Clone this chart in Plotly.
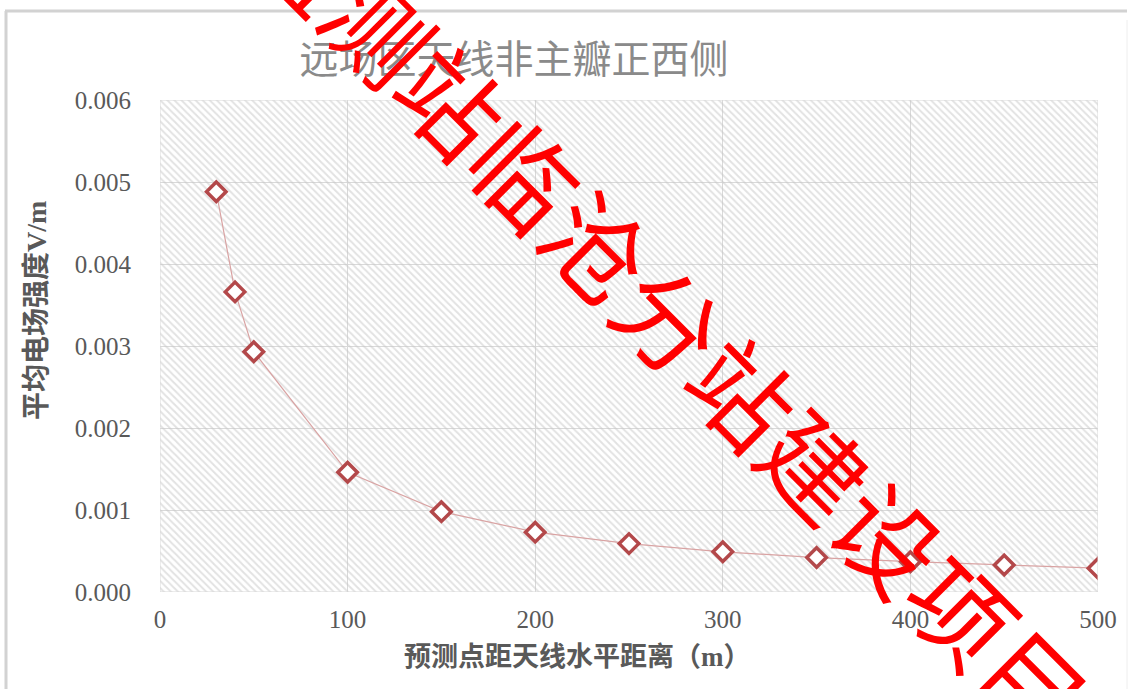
import plotly.graph_objects as go

# ---- data ----
distance_m = [30, 40, 50, 100, 150, 200, 250, 300, 350, 400, 450, 500]
field_vm = [0.00488, 0.00366, 0.00293, 0.00146, 0.00098, 0.00073,
            0.00059, 0.00049, 0.00042, 0.00037, 0.00033, 0.00029]
x_ticks = [0, 100, 200, 300, 400, 500]
y_ticks = [0.000, 0.001, 0.002, 0.003, 0.004, 0.005, 0.006]
x_range = [0, 500]
y_range = [0, 0.006]

title_text = "远场区天线非主瓣正西侧"
x_title = "预测点距天线水平距离（m）"
y_title = "平均电场强度V/m"
watermark = "监测站临沧分站建设项目"

W, H = 1134, 689
L, R, T, B = 160, 36, 100, 97
pw, ph = W - L - R, H - T - B

def px_x(px):
    return (px - L) / pw

def px_y(py):
    return (H - B - py) / ph

fig = go.Figure()

# hatched plot-area background
fig.add_trace(go.Bar(
    x=[(x_range[0] + x_range[1]) / 2], y=[y_range[1]],
    width=[x_range[1] - x_range[0]],
    marker=dict(color="rgba(0,0,0,0)", line=dict(width=0),
                pattern=dict(shape="\\", fgcolor="#c6c6c6", bgcolor="rgba(0,0,0,0)",
                             size=5, solidity=0.4)),
    hoverinfo="skip", showlegend=False))

fig.add_trace(go.Scatter(
    x=distance_m, y=field_vm, mode="lines+markers",
    line=dict(color="#d9a3a3", width=1.2),
    marker=dict(symbol="diamond", size=15, color="#ffffff",
                line=dict(color="#b3484a", width=3.5)),
    showlegend=False))

serif = "Liberation Serif, Noto Sans CJK SC, serif"

fig.update_xaxes(range=x_range, tickvals=x_ticks, showgrid=True, gridcolor="#d9d9d9",
                 gridwidth=1, zeroline=False, showline=False, ticks="",
                 tickfont=dict(family=serif, size=25, color="#595959"),
                 ticklabelstandoff=10)
fig.update_yaxes(range=y_range, tickvals=y_ticks, tickformat=".3f", showgrid=True,
                 gridcolor="#d9d9d9", gridwidth=1, zeroline=False, showline=False, ticks="",
                 tickfont=dict(family=serif, size=25, color="#595959"),
                 ticklabelstandoff=28)

fig.update_layout(
    width=W, height=H, margin=dict(l=L, r=R, t=T, b=B),
    paper_bgcolor="white", plot_bgcolor="white", barmode="overlay",
    title=dict(text=title_text, x=514 / W, xanchor="center", y=1 - 59 / H, yanchor="middle",
               font=dict(family="Noto Sans CJK SC", size=39, color="#8a8a8a")),
    shapes=[
        dict(type="line", xref="paper", yref="paper", x0=px_x(5), x1=px_x(1127),
             y0=px_y(11), y1=px_y(11), line=dict(color="#d2d2d2", width=3)),
        dict(type="line", xref="paper", yref="paper", x0=px_x(6), x1=px_x(6),
             y0=px_y(11), y1=px_y(700), line=dict(color="#d2d2d2", width=3)),
        dict(type="line", xref="paper", yref="paper", x0=px_x(1127), x1=px_x(1127),
             y0=px_y(20), y1=px_y(700), line=dict(color="#eeeeee", width=1)),
        dict(type="rect", xref="x", yref="y", x0=x_range[0], x1=x_range[1],
             y0=y_range[0], y1=y_range[1], line=dict(color="#d9d9d9", width=1)),
    ],
    annotations=[
        dict(text=f"<b>{x_title}</b>", xref="paper", yref="paper", x=px_x(577), y=px_y(657),
             xanchor="center", yanchor="middle", showarrow=False,
             font=dict(family=serif, size=27, color="#595959")),
        dict(text=f"<b>{y_title}</b>", xref="paper", yref="paper", x=px_x(36), y=px_y(311),
             xanchor="center", yanchor="middle", showarrow=False, textangle=-90,
             font=dict(family=serif, size=28, color="#595959")),
        dict(text=watermark, xref="paper", yref="paper", x=px_x(672), y=px_y(317),
             xanchor="center", yanchor="middle", showarrow=False, textangle=45,
             font=dict(family="Noto Sans CJK SC", size=103, color="#ff0000")),
    ],
)

fig.write_html("out.html")
